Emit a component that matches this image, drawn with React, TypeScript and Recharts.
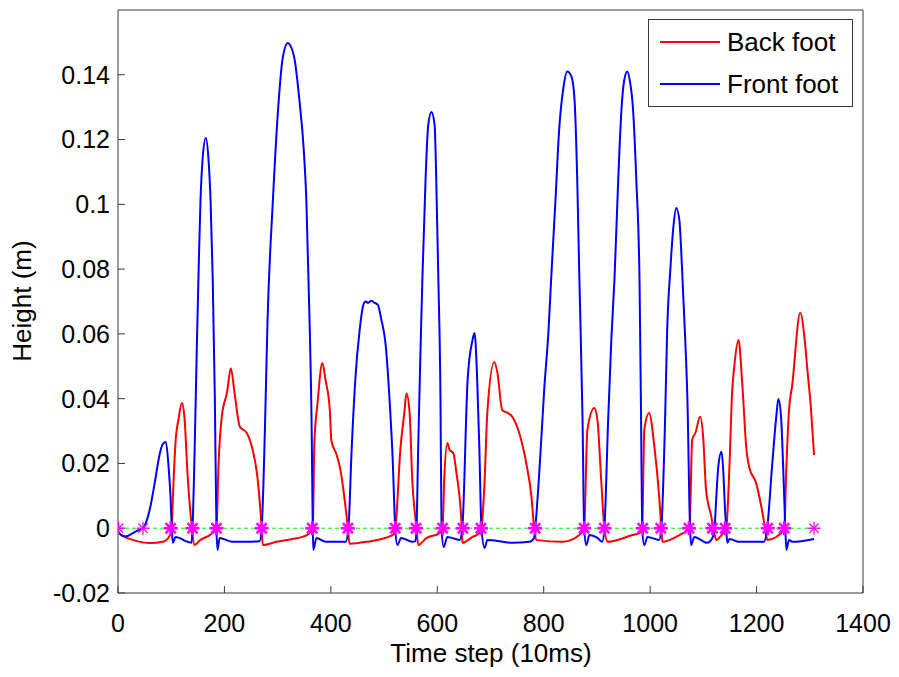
import React from 'react';
import { ComposedChart, Line, Scatter, XAxis, YAxis, Legend, Label } from 'recharts';

// ---------- data ----------
const xTicks = [0, 200, 400, 600, 800, 1000, 1200, 1400];
const yTicks = [-0.02, 0, 0.02, 0.04, 0.06, 0.08, 0.1, 0.12, 0.14];

const frontT = [1, 7, 16, 28, 40, 47, 60, 69, 78, 84, 90, 95, 99, 101, 103, 108, 131, 138, 140, 144, 148, 152, 155, 159, 165, 170, 174, 178, 182, 185, 187, 191, 215, 240, 266, 270, 276, 281, 291, 302, 309, 319, 324, 332, 341, 349, 354, 360, 364, 366, 367, 373, 390, 428, 433, 439, 446, 454, 461, 465, 470, 476, 482, 488, 495, 503, 510, 516, 521, 525, 532, 553, 559, 561, 564, 568, 572, 578, 583, 589, 595, 598, 602, 606, 608, 612, 619, 642, 647, 657, 666, 670, 675, 679, 683, 689, 694, 741, 773, 782, 784, 792, 801, 809, 814, 822, 829, 837, 844, 852, 858, 863, 867, 873, 876, 880, 886, 901, 910, 914, 921, 927, 933, 940, 946, 951, 957, 962, 968, 974, 980, 983, 985, 989, 995, 1017, 1021, 1028, 1032, 1038, 1044, 1049, 1055, 1060, 1066, 1070, 1075, 1077, 1083, 1107, 1117, 1121, 1124, 1128, 1134, 1137, 1141, 1143, 1145, 1149, 1167, 1214, 1220, 1229, 1237, 1241, 1246, 1250, 1254, 1256, 1261, 1267, 1308];
const frontH = [-0.0012, -0.0022, -0.0025, -0.0015, -0.0005, 0, 0.006, 0.014, 0.0226, 0.026, 0.0266, 0.019, 0.0087, 0, -0.0045, -0.0027, -0.0042, -0.0045, 0, 0.024, 0.055, 0.083, 0.101, 0.114, 0.1205, 0.114, 0.101, 0.077, 0.04, 0, -0.0067, -0.003, -0.0042, -0.0042, -0.004, 0, 0.03, 0.064, 0.101, 0.132, 0.1446, 0.1498, 0.149, 0.1446, 0.132, 0.117, 0.101, 0.064, 0.03, 0, -0.0067, -0.003, -0.0042, -0.0042, 0, 0.024, 0.046, 0.061, 0.0689, 0.07, 0.0696, 0.0702, 0.0696, 0.069, 0.0643, 0.0566, 0.0405, 0.022, 0, -0.0052, -0.003, -0.0042, -0.004, 0, 0.024, 0.052, 0.077, 0.108, 0.1245, 0.1285, 0.1245, 0.108, 0.077, 0.04, 0, -0.0058, -0.0027, -0.0036, 0, 0.0458, 0.058, 0.0603, 0.0458, 0.025, 0, -0.0061, -0.0036, -0.0045, -0.0042, -0.003, 0, 0.018, 0.043, 0.061, 0.077, 0.101, 0.123, 0.136, 0.141, 0.1395, 0.132, 0.1075, 0.077, 0.0334, 0, -0.0052, -0.0021, -0.003, -0.0042, 0, 0.033, 0.058, 0.077, 0.1075, 0.129, 0.138, 0.141, 0.138, 0.129, 0.1075, 0.077, 0.033, 0, -0.0052, -0.0027, -0.0036, 0, 0.033, 0.061, 0.08, 0.0936, 0.0989, 0.095, 0.08, 0.058, 0.04, 0, -0.0052, -0.0027, -0.0045, -0.003, 0, 0.0087, 0.0189, 0.0236, 0.0189, 0.005, 0, -0.0045, -0.0033, -0.0042, -0.0042, 0, 0.0189, 0.0344, 0.0399, 0.0344, 0.0189, 0, -0.0067, -0.0036, -0.0042, -0.0033];

const backT = [1, 10, 28, 60, 84, 93, 99, 101, 103, 108, 114, 120, 125, 131, 139, 143, 155, 175, 185, 189, 195, 205, 212, 219, 229, 242, 253, 262, 270, 272, 298, 328, 355, 366, 369, 375, 384, 390, 398, 401, 411, 418, 426, 432, 435, 467, 516, 521, 531, 538, 542, 548, 553, 561, 564, 580, 604, 610, 613, 619, 623, 630, 636, 646, 647, 666, 679, 683, 689, 694, 707, 713, 722, 732, 741, 754, 767, 777, 782, 786, 835, 867, 876, 882, 895, 901, 908, 914, 920, 967, 980, 985, 989, 998, 1008, 1017, 1021, 1023, 1055, 1074, 1079, 1085, 1094, 1100, 1105, 1115, 1119, 1124, 1134, 1143, 1149, 1154, 1158, 1166, 1173, 1181, 1186, 1199, 1209, 1216, 1220, 1237, 1252, 1256, 1261, 1267, 1282, 1291, 1295, 1302, 1308];
const backH = [-0.0015, -0.0025, -0.0036, -0.0046, -0.0042, -0.0033, -0.0015, 0, 0.0087, 0.0263, 0.034, 0.0387, 0.034, 0.0158, 0, -0.0052, -0.0036, -0.0018, 0, 0.02, 0.0344, 0.042, 0.0494, 0.0418, 0.0313, 0.0294, 0.0242, 0.0158, 0, -0.0052, -0.0042, -0.0033, -0.0021, 0, 0.0263, 0.0387, 0.051, 0.0458, 0.0365, 0.027, 0.0226, 0.018, 0.0087, 0, -0.0048, -0.0042, -0.0021, 0, 0.0251, 0.0356, 0.0416, 0.0356, 0.0149, 0, -0.0052, -0.003, -0.0015, 0, 0.0149, 0.0263, 0.0242, 0.0232, 0.0171, 0, -0.0045, -0.0027, -0.0015, 0, 0.0149, 0.0356, 0.0513, 0.048, 0.0365, 0.0356, 0.0344, 0.0294, 0.0202, 0.0097, 0, -0.0036, -0.0042, -0.0021, 0, 0.0303, 0.0371, 0.0334, 0.0149, 0, -0.0042, -0.0021, -0.0015, 0, 0.0303, 0.0356, 0.0251, 0.0097, 0, -0.0042, -0.0021, 0, 0.0273, 0.0294, 0.0344, 0.0273, 0.012, 0.0036, 0, -0.0036, -0.0021, 0, 0.0189, 0.0418, 0.0498, 0.0581, 0.0449, 0.0242, 0.0189, 0.014, 0.0066, 0, -0.0036, -0.0027, 0, 0.0189, 0.0365, 0.0442, 0.0665, 0.0572, 0.0498, 0.0374, 0.0226];

const boldEventT = [99, 140, 185, 270, 365, 432, 521, 560, 610, 648, 682, 784, 876, 914, 986, 1020, 1073, 1117, 1141, 1221, 1252];
const thinEventT = [1, 47, 1308];
const groundT = [0, 1308];

const seriesNames = ['Back foot', 'Front foot'];
const seriesColors = ['#FF0000', '#0000FF'];

// ---------- derived tables ----------
const backData = backT.map((t, i) => ({ t, h: backH[i] }));
const frontData = frontT.map((t, i) => ({ t, h: frontH[i] }));
const boldEvents = boldEventT.map((t) => ({ t, h: 0 }));
const thinEvents = thinEventT.map((t) => ({ t, h: 0 }));
const groundData = groundT.map((t) => ({ t, h: 0 }));

const FONT = '"Liberation Sans", Arial, Helvetica, sans-serif';
const AXIS_COLOR = '#3a3a3a';

const fmtY = (v: number) => String(Number(v.toFixed(2)));

const makeStar = (sw: number, r: number) => (props: any) => {
  const { cx, cy } = props;
  if (cx == null || cy == null) return <g />;
  const d = r * 0.72;
  return (
    <g stroke="#FF00FF" strokeWidth={sw} strokeLinecap="butt">
      <line x1={cx - r} y1={cy} x2={cx + r} y2={cy} />
      <line x1={cx} y1={cy - r} x2={cx} y2={cy + r} />
      <line x1={cx - d} y1={cy - d} x2={cx + d} y2={cy + d} />
      <line x1={cx - d} y1={cy + d} x2={cx + d} y2={cy - d} />
    </g>
  );
};

const BoldStar = makeStar(2.6, 7);
const ThinStar = makeStar(1.3, 6.5);

const renderLegend = () => (
  <div
    style={{
      width: 205,
      height: 88,
      boxSizing: 'border-box',
      border: `1px solid ${AXIS_COLOR}`,
      background: '#fff',
      fontFamily: FONT,
      fontSize: 26,
      color: '#000',
      paddingTop: 1,
    }}
  >
    {seriesNames.map((name, i) => (
      <div key={name} style={{ height: 42, display: 'flex', alignItems: 'center' }}>
        <svg width={72} height={10} style={{ marginLeft: 11, flex: 'none' }}>
          <line x1={0} y1={5} x2={60} y2={5} stroke={seriesColors[i]} strokeWidth={2} />
        </svg>
        <span style={{ marginLeft: -5, whiteSpace: 'nowrap' }}>{name}</span>
      </div>
    ))}
  </div>
);

export default function App() {
  return (
    <div style={{ position: 'absolute', left: 0, top: 0, width: 899, height: 677, background: '#fff' }}>
      <ComposedChart
        width={899}
        height={677}
        margin={{ top: 5, right: 31, bottom: 54, left: 58 }}
        style={{ fontFamily: FONT }}
      >
        <XAxis
          xAxisId="b"
          dataKey="t"
          type="number"
          domain={[0, 1400]}
          ticks={xTicks}
          interval={0}
          allowDataOverflow
          height={30}
          stroke={AXIS_COLOR}
          tickSize={-7}
          tickMargin={28}
          tick={{ fill: '#000', fontSize: 25, fontFamily: FONT }}
        >
          <Label
            content={() => (
              <text x={491} y={662} textAnchor="middle" fontSize={26} fontFamily={FONT} fill="#000">
                Time step (10ms)
              </text>
            )}
          />
        </XAxis>
        <XAxis
          xAxisId="top"
          dataKey="t"
          type="number"
          orientation="top"
          domain={[0, 1400]}
          ticks={xTicks}
          interval={0}
          allowDataOverflow
          height={5}
          stroke={AXIS_COLOR}
          tickSize={-7}
          tick={false}
        />
        <YAxis
          yAxisId="l"
          type="number"
          domain={[-0.02, 0.16]}
          ticks={yTicks}
          interval={0}
          allowDataOverflow
          width={60}
          stroke={AXIS_COLOR}
          tickSize={-7}
          tickMargin={15}
          tickFormatter={fmtY}
          tick={{ fill: '#000', fontSize: 25, fontFamily: FONT }}
        >
          <Label
            content={() => (
              <text
                x={31}
                y={301}
                transform="rotate(-90 31 301)"
                textAnchor="middle"
                fontSize={26}
                fontFamily={FONT}
                fill="#000"
              >
                Height (m)
              </text>
            )}
          />
        </YAxis>
        <YAxis
          yAxisId="r"
          type="number"
          orientation="right"
          domain={[-0.02, 0.16]}
          ticks={yTicks}
          interval={0}
          allowDataOverflow
          width={5}
          stroke={AXIS_COLOR}
          tickSize={-7}
          tick={false}
        />
        <Line
          xAxisId="b"
          yAxisId="l"
          data={backData}
          dataKey="h"
          name="Back foot"
          type="monotoneX"
          stroke="#FF0000"
          strokeWidth={2}
          dot={false}
          activeDot={false}
          isAnimationActive={false}
        />
        <Line
          xAxisId="b"
          yAxisId="l"
          data={frontData}
          dataKey="h"
          name="Front foot"
          type="monotoneX"
          stroke="#0000FF"
          strokeWidth={2}
          dot={false}
          activeDot={false}
          isAnimationActive={false}
        />
        <Line
          xAxisId="b"
          yAxisId="l"
          data={groundData}
          dataKey="h"
          type="linear"
          stroke="#00FF00"
          strokeWidth={1}
          strokeDasharray="4 3"
          dot={false}
          activeDot={false}
          isAnimationActive={false}
        />
        <Scatter
          xAxisId="b"
          yAxisId="l"
          data={boldEvents}
          dataKey="h"
          shape={BoldStar}
          isAnimationActive={false}
        />
        <Scatter
          xAxisId="b"
          yAxisId="l"
          data={thinEvents}
          dataKey="h"
          shape={ThinStar}
          isAnimationActive={false}
        />
        <Legend
          content={renderLegend}
          layout="horizontal"
          align="center"
          verticalAlign="middle"
          wrapperStyle={{ position: 'absolute', left: 648, top: 19, width: 205, height: 88, margin: 0 }}
        />
      </ComposedChart>
    </div>
  );
}
